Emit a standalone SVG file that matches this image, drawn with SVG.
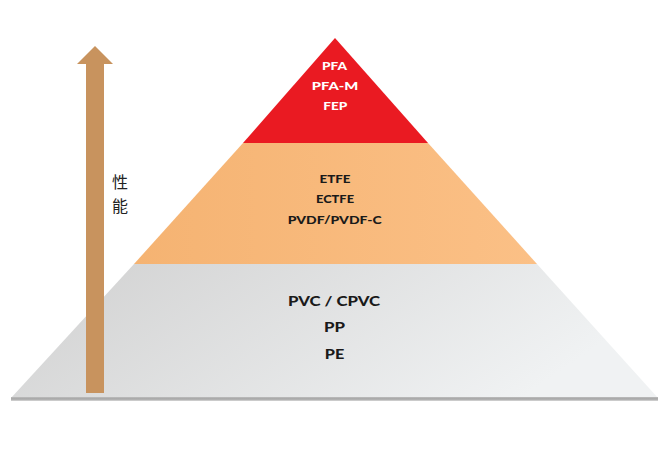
<svg xmlns="http://www.w3.org/2000/svg" width="665" height="452" viewBox="0 0 665 452">
  <defs>
    <linearGradient id="grayGrad" x1="0" y1="0" x2="1" y2="0.3">
      <stop offset="0" stop-color="#d0d0d0"/>
      <stop offset="1" stop-color="#f0f2f3"/>
    </linearGradient>
    <linearGradient id="orangeGrad" x1="0" y1="0" x2="1" y2="0">
      <stop offset="0" stop-color="#f5b372"/>
      <stop offset="1" stop-color="#fbc086"/>
    </linearGradient>
    <linearGradient id="baseGrad" x1="0" y1="0" x2="0" y2="1">
      <stop offset="0" stop-color="#bdbdbd"/>
      <stop offset="0.5" stop-color="#a4a4a4"/>
      <stop offset="1" stop-color="#d8d8d8"/>
    </linearGradient>
  </defs>
  <style>
    .t { font-family: Lato, "Open Sans", "Liberation Sans", sans-serif; font-weight: 900; text-anchor: middle; }
    .w { fill: #ffffff; font-size: 11px; }
    .o { fill: #1a1a1a; font-size: 10.5px; }
    .g { fill: #1a1a1a; font-size: 14px; }
    .cjk { font-family: "Noto Sans CJK SC", "Noto Sans CJK JP", sans-serif; font-size: 16px; fill: #222222; text-anchor: middle; }
  </style>

  <g id="tier-bottom">
    <polygon points="134,264 537,264 658,398 11,398" fill="url(#grayGrad)"/>
    <rect x="11" y="397" width="647" height="4" fill="url(#baseGrad)"/>
    <text class="t g" x="334" y="305.5" textLength="92" lengthAdjust="spacingAndGlyphs">PVC / CPVC</text>
    <text class="t g" x="334.5" y="331.5" textLength="21" lengthAdjust="spacingAndGlyphs">PP</text>
    <text class="t g" x="334.5" y="359" textLength="19.5" lengthAdjust="spacingAndGlyphs">PE</text>
  </g>

  <g id="tier-middle">
    <polygon points="243,143 428,143 537,264 134,264" fill="url(#orangeGrad)"/>
    <text class="t o" x="335" y="183.3" textLength="31" lengthAdjust="spacingAndGlyphs">ETFE</text>
    <text class="t o" x="335" y="203.3" textLength="38" lengthAdjust="spacingAndGlyphs">ECTFE</text>
    <text class="t o" x="334.7" y="224" textLength="94" lengthAdjust="spacingAndGlyphs">PVDF/PVDF-C</text>
  </g>

  <g id="tier-top">
    <polygon points="335,38 428,143 243,143" fill="#ea1a22"/>
    <text class="t w" x="334.5" y="70" textLength="25" lengthAdjust="spacingAndGlyphs">PFA</text>
    <text class="t w" x="335" y="90" textLength="46.5" lengthAdjust="spacingAndGlyphs">PFA-M</text>
    <text class="t w" x="335.3" y="110" textLength="24" lengthAdjust="spacingAndGlyphs">FEP</text>
  </g>

  <g id="performance-arrow">
    <polygon points="95,46 113,64 104,64 104,393 86,393 86,64 77,64" fill="#c8935e"/>
    <text class="cjk" x="120" y="188">性</text>
    <text class="cjk" x="120" y="211.5">能</text>
  </g>
</svg>
